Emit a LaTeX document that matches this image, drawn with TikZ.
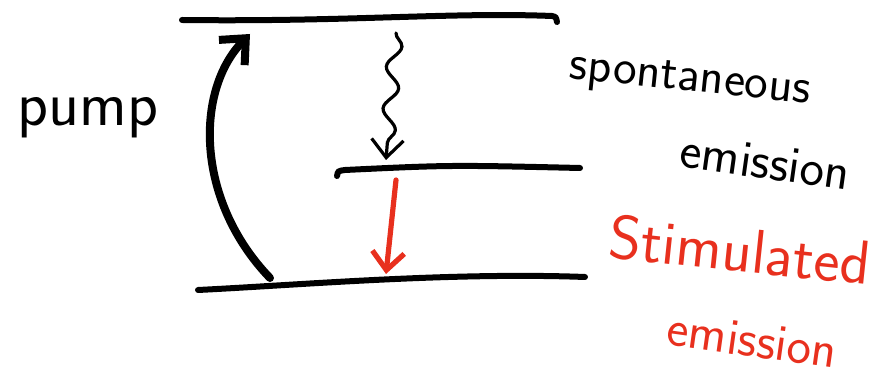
\documentclass[tikz,border=0pt]{standalone}
\usetikzlibrary{arrows.meta,decorations.pathmorphing}

\definecolor{penred}{RGB}{232,48,30}
\tikzset{
  level/.style={line width=3pt, line cap=round},
  hand/.style={font=\sffamily\fontsize{#1}{#1}\selectfont, inner sep=0pt},
}

\begin{document}
\begin{tikzpicture}[x=0.5pt, y=-0.5pt, >={Straight Barb[length=9pt,width=16pt]}, line cap=round]
    \useasboundingbox (0,0) rectangle (891,378);

    \draw[level] (182,20) .. controls (350,22) and (450,12) .. (552,16) .. controls (556,17) .. (557,22);
    \draw[level] (337,176) .. controls (338,171) .. (345,170) .. controls (450,165) .. (580,168);
    \draw[level] (198,290) .. controls (300,285) and (450,272) .. (585,277);

    \coordinate (ground) at (270,278);
    \coordinate (upper) at (250,34);
    \coordinate (wave-start) at (396,33);
    \coordinate (wave-end) at (386,160);
    \coordinate (red-start) at (396,180);
    \coordinate (red-end) at (386,274);

    \draw[-{Straight Barb[length=10pt,width=18pt]}, line width=4pt] (ground) .. controls (195,200) and (195,90) .. (upper);
    \draw[->, line width=1.6pt, decorate, decoration={snake, amplitude=3.5pt, segment length=21pt, post length=8pt}] (wave-start) -- (wave-end);
    \draw[->, penred, line width=2.6pt] (red-start) -- (red-end);

    \node[hand=32] (pump) at (88,118) {pump};
    \node[hand=25, rotate=-6] (spont) at (690,82) {spontaneous};
    \node[hand=26, rotate=-8] (spont-em) at (765,162) {emission};
    \node[hand=31, rotate=-6, text=penred] (stim) at (740,250) {Stimulated};
    \node[hand=26, rotate=-8, text=penred] (stim-em) at (752,340) {emission};
\end{tikzpicture}
\end{document}
